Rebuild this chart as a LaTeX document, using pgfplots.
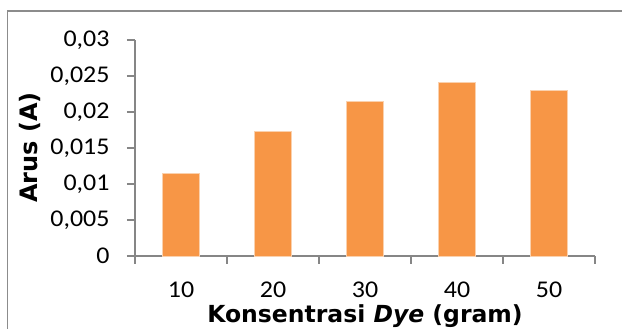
\documentclass[border=0pt]{standalone}
\usepackage{fontspec}
\setmainfont{DejaVu Sans}
\newfontfamily\tickfont[FakeStretch=1.08]{Carlito}
\usepackage{pgfplots}
\pgfplotsset{compat=1.18}
\definecolor{barfill}{HTML}{F79646}
\definecolor{baredge}{HTML}{FAD1AE}
\definecolor{axgray}{HTML}{868686}
\definecolor{boxgray}{HTML}{8C8C8C}
\begin{document}
\begin{tikzpicture}[x=1pt,y=1pt]
\useasboundingbox (0,0) rectangle (622,329);
\draw[boxgray, line width=1.5pt] (7.5,-2) -- (7.5,318) -- (624,318);
\begin{axis}[
  at={(135pt,73pt)}, anchor=south west,
  scale only axis, width=460pt, height=216pt,
  xmin=-0.5, xmax=4.5, ymin=0, ymax=0.03,
  axis x line*=bottom, axis y line*=left,
  axis line style={axgray, line width=1.5pt},
  every tick/.style={axgray, line width=1.5pt},
  tick align=outside, major tick length=8pt,
  xtick={-0.5,0.5,1.5,2.5,3.5,4.5}, xticklabels={},
  extra x ticks={0,1,2,3,4}, extra x tick labels={10,20,30,40,50},
  extra x tick style={tick style={draw=none}},
  ytick={0,0.005,0.01,0.015,0.02,0.025,0.03},
  scaled y ticks=false,
  /pgf/number format/use comma,
  /pgf/number format/fixed,
  /pgf/number format/precision=3,
  /pgf/number format/assume math mode=true,
  ticklabel style={font=\tickfont\fontsize{24}{28}\selectfont, text=black},
  xticklabel style={yshift=-14pt},
  yticklabel style={xshift=-14pt},
  xlabel={\textbf{Konsentrasi \textit{Dye} (gram)}},
  ylabel={\textbf{Arus (A)}},
  label style={font=\fontsize{24}{28}\selectfont},
  xlabel style={at={(axis description cs:0.5,-0.310)}, anchor=base, font=\fontsize{23.5}{28}\selectfont},
  ylabel style={at={(axis description cs:-0.228,0.502)}, anchor=center},
  clip=false,
]
\addplot[ybar, bar width=37pt, fill=barfill, draw=baredge, line width=0.75pt] coordinates {
  (0,0.0115) (1,0.0173) (2,0.0215) (3,0.0241) (4,0.0230)
};
\end{axis}
\end{tikzpicture}
\end{document}
